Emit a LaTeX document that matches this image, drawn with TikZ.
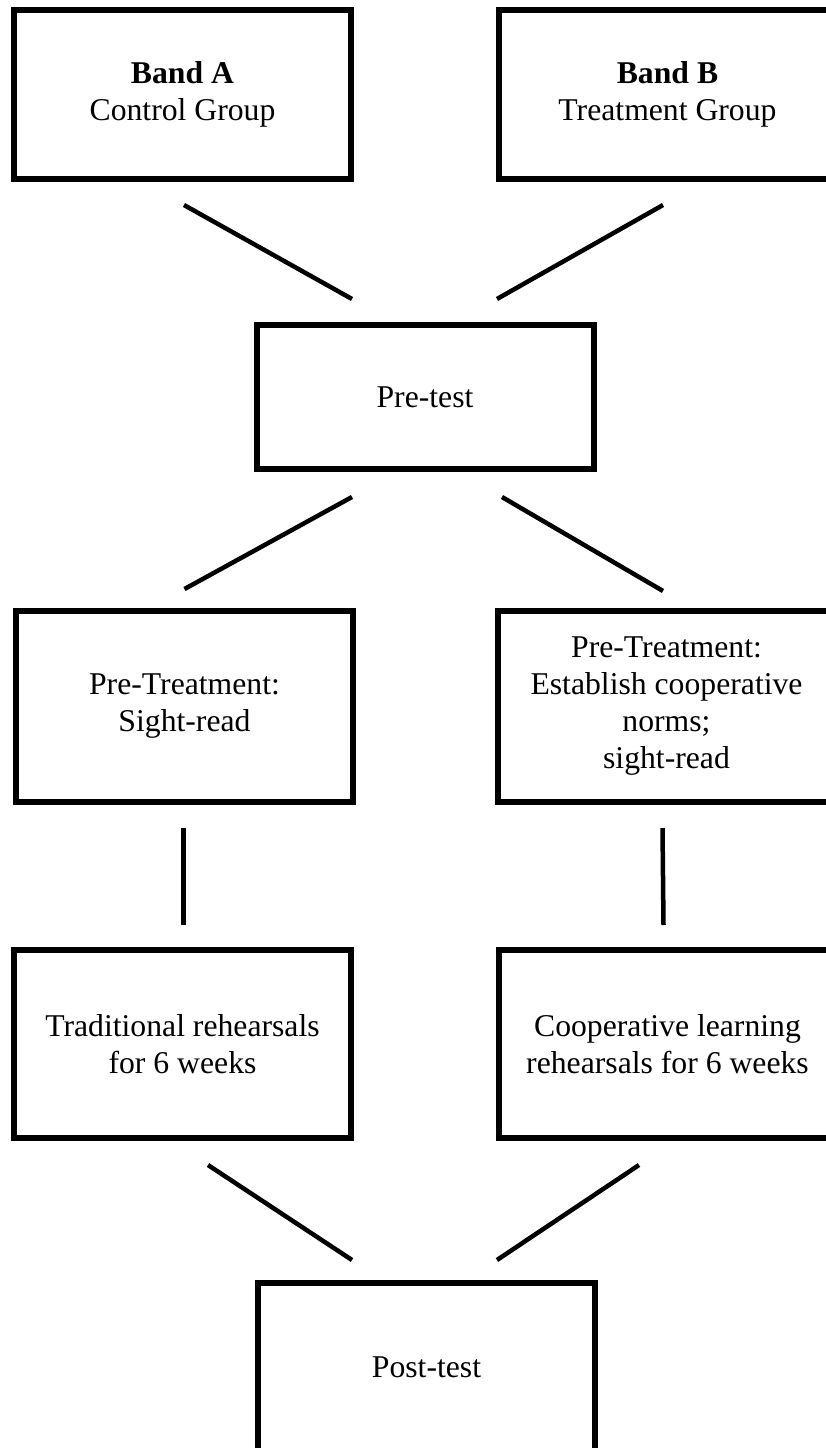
\documentclass[tikz,border=0pt]{standalone}
\usepackage{fontspec}
\setmainfont{Liberation Serif}
\usetikzlibrary{positioning}

\begin{document}
\begin{tikzpicture}[
  x=1pt, y=-1pt,
  box/.style={draw, line width=6pt, outer sep=0pt, inner sep=0pt,
              minimum width=337pt, align=center,
              font=\fontsize{31.7pt}{37pt}\selectfont},
  link/.style={line width=4.5pt},
  node distance=148pt
]
  \useasboundingbox (0,0) rectangle (825,1448);

  % Groups
  \node[box, minimum height=169pt] (bandA) at (182.5,94.5) {\textbf{Band A}\\Control Group};
  \node[box, minimum height=169pt, right=of bandA] (bandB) {\textbf{Band B}\\Treatment Group};

  % Pre-test
  \node[box, minimum height=144pt] (pre) at (425,397) {Pre-test};

  % Pre-treatment
  \node[box, minimum height=191pt] (ptA) at (184.5,706.5) {Pre-Treatment:\\Sight-read};
  \node[box, minimum height=191pt, right=145pt of ptA] (ptB) {Pre-Treatment:\\Establish cooperative\\norms;\\sight-read};

  % Rehearsals
  \node[box, minimum height=188pt] (tradA) at (182.5,1044) {Traditional rehearsals\\for 6 weeks};
  \node[box, minimum height=188pt, right=of tradA] (coopB) {Cooperative learning\\rehearsals for 6 weeks};

  % Post-test
  \node[box, minimum height=168pt] (post) at (426.5,1367) {Post-test};

  % Links
  \draw[link] ([xshift=1.5pt,yshift=-26pt]bandA.south) -- ([xshift=-73pt,yshift=26pt]pre.north);
  \draw[link] ([xshift=-4.5pt,yshift=-26pt]bandB.south) -- ([xshift=72pt,yshift=26pt]pre.north);
  \draw[link] ([xshift=-73pt,yshift=-28pt]pre.south) -- ([yshift=22pt]ptA.north);
  \draw[link] ([xshift=77pt,yshift=-28pt]pre.south) -- ([xshift=-3.5pt,yshift=20pt]ptB.north);
  \draw[link] ([xshift=-1pt,yshift=-26pt]ptA.south) -- ([xshift=1pt,yshift=25pt]tradA.north);
  \draw[link] ([xshift=-4pt,yshift=-26pt]ptB.south) -- ([xshift=-4pt,yshift=25pt]coopB.north);
  \draw[link] ([xshift=25.5pt,yshift=-27pt]tradA.south) -- ([xshift=-74.5pt,yshift=23pt]post.north);
  \draw[link] ([xshift=-28.5pt,yshift=-27pt]coopB.south) -- ([xshift=70.5pt,yshift=23pt]post.north);
\end{tikzpicture}
\end{document}
